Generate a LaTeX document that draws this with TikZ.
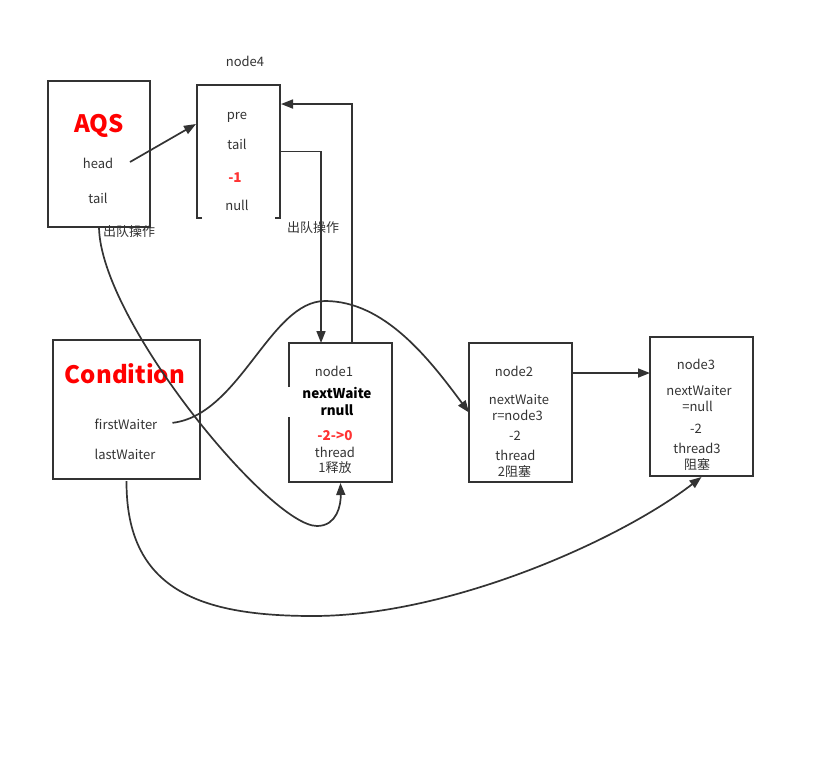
\documentclass[tikz,border=0pt]{standalone}
\usepackage{fontspec}
\setmainfont{Noto Sans CJK SC}
\usetikzlibrary{arrows.meta,calc}
\definecolor{ink}{HTML}{333333}
\definecolor{redA}{HTML}{FF0000}
\definecolor{redB}{HTML}{FF3333}
\begin{document}
\begin{tikzpicture}[x=1pt,y=-1pt,
  frame/.style={inner sep=0pt,outer sep=0pt},
  box/.style={frame, draw=ink, line width=1.9pt},
  edge/.style={draw=ink, line width=1.9pt, line join=miter},
  txt/.style={inner sep=0pt, anchor=base, text=ink, font=\fontsize{13}{16}\selectfont},
  btxt/.style={inner sep=0pt, anchor=base, text=black, font=\fontsize{13.5}{16}\selectfont\bfseries},
  rtxt/.style={inner sep=0pt, anchor=base, text=redB, font=\fontsize{13.5}{16}\selectfont\bfseries},
  big/.style={inner sep=0pt, anchor=base, text=redA, font=\fontsize{24}{28}\selectfont\bfseries},
  link/.style={draw=ink, line width=1.7pt, -{Triangle[length=12pt,width=9pt]}},
  ]
\useasboundingbox (0,0) rectangle (815,772);

% boxes
\node[box, minimum width=102pt, minimum height=146pt] (aqs) at (99,154) {};
\node[frame, minimum width=83pt, minimum height=133pt] (n4) at (238.5,151.5) {};
\node[box, minimum width=147pt, minimum height=139pt] (cond) at (126.5,409.5) {};
\node[frame, minimum width=103pt, minimum height=139pt] (n1) at (340.5,412.5) {};
\node[box, minimum width=103pt, minimum height=139pt] (n2) at (520.5,412.5) {};
\node[box, minimum width=103pt, minimum height=139pt] (n3) at (701.5,406.5) {};

% node4 border (bottom mostly open)
\draw[edge] ($(n4.south west)+(5,0)$) -- (n4.south west) -- (n4.north west)
  -- (n4.north east) -- (n4.south east) -- ($(n4.south east)+(-5,0)$);
% node1 border (gap on the left side)
\draw[edge] ($(n1.north west)+(0,44)$) -- (n1.north west) -- (n1.north east)
  -- (n1.south east) -- (n1.south west) -- ($(n1.south west)+(0,-65)$);

% AQS texts
\node[big] (aqsT) at (99,132) {AQS};
\node[txt] (head) at (98,168) {head};
\node[txt] (aqsTail) at (98,203) {tail};
\node[txt] (out1) at (129,236) {出队操作};

% node4 texts
\node[txt] (n4T) at (245,66) {node4};
\node[txt] (pre) at (237,119) {pre};
\node[txt] (n4Tail) at (237,149) {tail};
\node[rtxt] (m1) at (235,182) {-1};
\node[txt] (null4) at (237,210) {null};
\node[txt] (out2) at (313,232) {出队操作};

% Condition texts
\node[big] (condT) at (125,383) {Condition};
\node[txt] (first) at (126,429) {firstWaiter};
\node[txt] (last) at (125,459) {lastWaiter};

% node1 texts
\node[txt] (n1T) at (334,376) {node1};
\node[btxt] (n1a) at (337,398) {nextWaite};
\node[btxt] (n1b) at (337,415) {rnull};
\node[rtxt] (n1c) at (335,440) {-2->0};
\node[txt] (n1d) at (335,457) {thread};
\node[txt] (n1e) at (335,472) {1释放};

% node2 texts
\node[txt] (n2T) at (514,376) {node2};
\node[txt] (n2a) at (519,404) {nextWaite};
\node[txt] (n2b) at (517.5,420) {r=node3};
\node[txt] (n2c) at (515,440) {-2};
\node[txt] (n2d) at (515.5,460) {thread};
\node[txt] (n2e) at (514.5,476) {2阻塞};

% node3 texts
\node[txt] (n3T) at (696,369) {node3};
\node[txt] (n3a) at (699,395) {nextWaiter};
\node[txt] (n3b) at (697.5,411) {=null};
\node[txt] (n3c) at (696,433) {-2};
\node[txt] (n3d) at (697,453) {thread3};
\node[txt] (n3e) at (697,469) {阻塞};

% connectors
\draw[link] ($(aqs.center)+(31,8)$) -- ($(n4.west)+(-1,-27.5)$);
\draw[link] (n4.east) -| ($(n1.north west)+(32,0)$);
\draw[link] ($(n1.north west)+(63,0)$) |- ($(n4.north east)+(1,19)$);
\draw[link] ($(n2.east)+(1,-39.5)$) -- ($(n3.west)+(0,-33.5)$);
\draw[link] (aqs.south) .. controls (100,320) and (270,526) .. (317,526)
  .. controls (337,526) and (341,505) .. ($(n1.south)+(0,1)$);
\draw[link] ($(first.east)+(15,-1)$) .. controls (240,415) and (270,301) .. (325,301)
  .. controls (385,301) and (430,360) .. (n2.west);
\draw[link] ($(cond.south)+(0,2)$) .. controls (126,590) and (200,616) .. (313,616)
  .. controls (450,616) and (620,540) .. ($(n3.south)+(0,1)$);
\end{tikzpicture}
\end{document}
